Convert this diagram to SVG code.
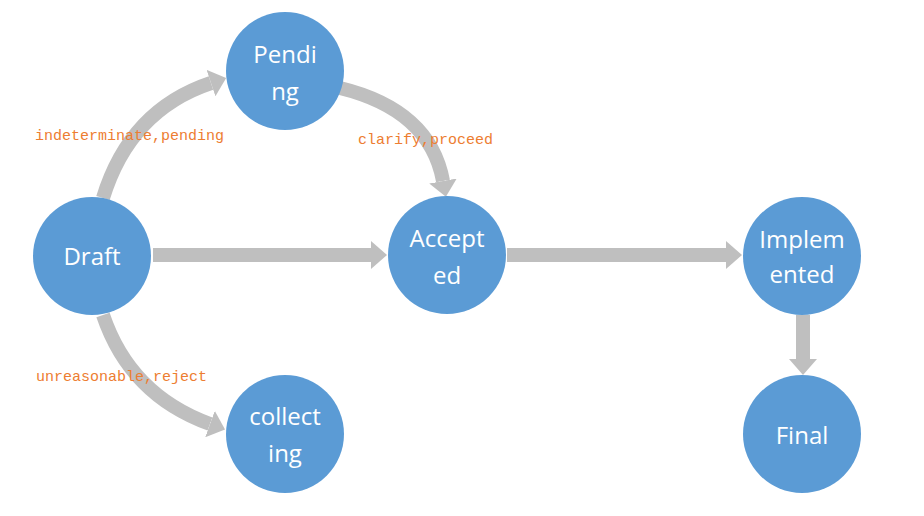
<svg xmlns="http://www.w3.org/2000/svg" width="924" height="516" viewBox="0 0 924 516">
<defs>
<style>
.node{fill:#5B9BD5;}
.nt{fill:#ffffff;font-family:"Open Sans","Noto Sans",sans-serif;font-size:24px;text-anchor:middle;}
.edge{fill:none;stroke:#BFBFBF;stroke-width:14;}
.lbl{fill:#ED7D31;font-family:"Liberation Mono","DejaVu Sans Mono",monospace;font-size:15px;}
</style>
<marker id="ah" markerUnits="userSpaceOnUse" viewBox="0 0 16 28" refX="0" refY="14" markerWidth="16" markerHeight="28" orient="auto">
<path d="M0,0 L16,14 L0,28 Z" fill="#BFBFBF"/>
</marker>
</defs>
<rect width="924" height="516" fill="#ffffff"/>
<g id="connectors">
<path class="edge" d="M153,255 L371,255" marker-end="url(#ah)"/>
<path class="edge" d="M507,255 L726,255" marker-end="url(#ah)"/>
<path class="edge" d="M803,315 L803,359" marker-end="url(#ah)"/>
<path class="edge" d="M103,198 Q130,110 211,83" marker-end="url(#ah)"/>
<path class="edge" d="M340,88 Q430,110 443,181" marker-end="url(#ah)"/>
<path class="edge" d="M103,315 Q130,395 210,424" marker-end="url(#ah)"/>
<text class="lbl" x="35" y="140">indeterminate,pending</text>
<text class="lbl" x="358" y="144">clarify,proceed</text>
<text class="lbl" x="36" y="381">unreasonable,reject</text>
</g>
<g id="pending"><circle class="node" cx="285" cy="71" r="59"/><text class="nt" x="285" y="63">Pendi</text><text class="nt" x="285" y="100">ng</text></g>
<g id="draft"><circle class="node" cx="92" cy="256" r="59"/><text class="nt" x="92" y="265">Draft</text></g>
<g id="accepted"><circle class="node" cx="447" cy="255" r="59"/><text class="nt" x="447" y="247">Accept</text><text class="nt" x="447" y="284">ed</text></g>
<g id="implemented"><circle class="node" cx="802" cy="256" r="59"/><text class="nt" x="802" y="248">Implem</text><text class="nt" x="802" y="283">ented</text></g>
<g id="collecting"><circle class="node" cx="285" cy="434" r="59"/><text class="nt" x="285" y="425">collect</text><text class="nt" x="285" y="462">ing</text></g>
<g id="final"><circle class="node" cx="802" cy="434" r="59"/><text class="nt" x="802" y="444">Final</text></g>
</svg>
